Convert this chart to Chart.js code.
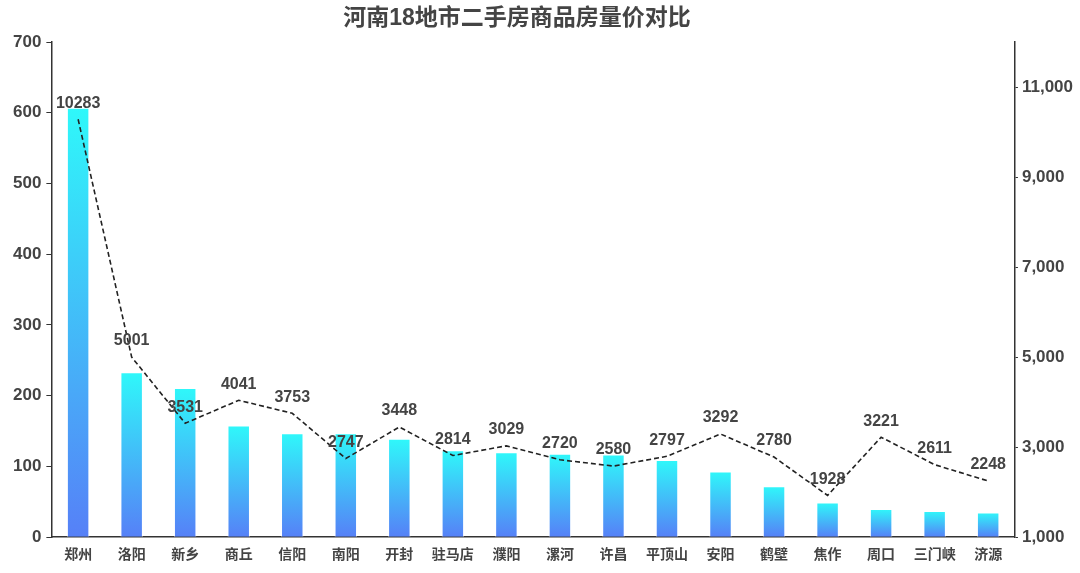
<!DOCTYPE html>
<html>
<head>
<meta charset="utf-8">
<script src="https://cdn.jsdelivr.net/npm/chart.js@4.4.1/dist/chart.umd.min.js"></script>
<style>
body{margin:0;background:#fff;}
#contenedor{width:1080px;height:573px;}
</style>
</head>
<body>
<div id="contenedor"><canvas id="graficoHenan"></canvas></div>
<script>
// datos
const ciudades = ['郑州','洛阳','新乡','商丘','信阳','南阳','开封','驻马店','濮阳','漯河','许昌','平顶山','安阳','鹤壁','焦作','周口','三门峡','济源'];
const volumen = [607, 233, 211, 158, 147, 147, 139, 123, 120, 118, 117, 109, 93, 72, 49, 40, 37, 35];
const precio = [10283, 5001, 3531, 4041, 3753, 2747, 3448, 2814, 3029, 2720, 2580, 2797, 3292, 2780, 1928, 3221, 2611, 2248];
const ticksPrecio = [1000, 3000, 5000, 7000, 9000, 11000];
const titulo = '河南18地市二手房商品房量价对比';

const fuente = '"Liberation Sans", "Noto Sans CJK SC", sans-serif';
const grisTexto = '#444';

// degradado por barra: cian arriba, azul abajo
function degradado(context) {
	const chart = context.chart;
	if (!chart.chartArea || context.type !== 'data') return '#3fd0f8';
	const y = chart.scales.y;
	const arriba = y.getPixelForValue(context.raw);
	const abajo = y.getPixelForValue(0);
	const g = chart.ctx.createLinearGradient(0, arriba, 0, abajo);
	g.addColorStop(0, '#2ff8fa');
	g.addColorStop(1, '#5680f7');
	return g;
}

// etiquetas encima de la linea + titulo
const etiquetasPrecio = {
	id: 'etiquetasPrecio',
	afterDatasetsDraw(chart) {
		const meta = chart.getDatasetMeta(1);
		const ctx = chart.ctx;
		ctx.save();
		ctx.font = 'bold 16px ' + fuente;
		ctx.fillStyle = grisTexto;
		ctx.textAlign = 'center';
		ctx.textBaseline = 'bottom';
		meta.data.forEach(function(p, i){
			ctx.fillText(precio[i], p.x, p.y - 8);
		});
		// titulo
		ctx.font = 'bold 23px ' + fuente;
		ctx.textBaseline = 'middle';
		ctx.fillText(titulo, 517, 19);
		ctx.restore();
	}
};

new Chart('graficoHenan', {
	data: {
		labels: ciudades,
		datasets: [{
			type: 'bar',
			data: volumen,
			yAxisID: 'y',
			backgroundColor: degradado,
			borderColor: 'rgba(255,255,255,0.7)',
			borderWidth: 1,
			barPercentage: 0.42,
			categoryPercentage: 1,
			order: 2
		}, {
			type: 'line',
			data: precio,
			yAxisID: 'y1',
			borderColor: '#222',
			borderWidth: 1.6,
			borderDash: [5, 3],
			pointRadius: 0,
			tension: 0,
			order: 1
		}]
	},
	options: {
		responsive: true,
		maintainAspectRatio: false,
		animation: false,
		layout: {padding: {left: 8, right: 3, top: 42, bottom: 7}},
		plugins: {
			legend: {display: false},
			tooltip: {enabled: false},
			title: {display: false}
		},
		scales: {
			x: {
				grid: {display: false},
				border: {display: true, color: '#333', width: 1.5},
				ticks: {color: grisTexto, font: {family: fuente, size: 14, weight: 'bold'}, maxRotation: 0, autoSkip: false, padding: 2}
			},
			y: {
				position: 'left',
				min: 0, max: 700,
				ticks: {stepSize: 100, color: grisTexto, font: {family: fuente, size: 17, weight: 'bold'}, padding: 5},
				grid: {drawOnChartArea: false, drawTicks: true, tickLength: 5, color: '#333'},
				border: {display: true, color: '#333', width: 1.5}
			},
			y1: {
				position: 'right',
				min: 1000, max: 12000,
				afterBuildTicks: function(scale){
					scale.ticks = ticksPrecio.map(function(v){ return {value: v}; });
				},
				ticks: {color: grisTexto, font: {family: fuente, size: 17, weight: 'bold'}, padding: 4},
				grid: {drawOnChartArea: false, drawTicks: true, tickLength: 3, color: '#333'},
				border: {display: true, color: '#333', width: 1.5}
			}
		}
	},
	plugins: [etiquetasPrecio]
});
</script>
</body>
</html>
